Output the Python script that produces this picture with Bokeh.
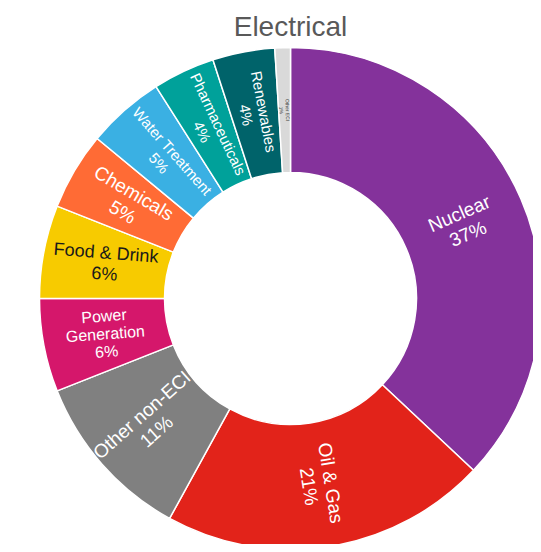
import math
from bokeh.plotting import figure
from bokeh.models import Range1d, ColumnDataSource
from bokeh.embed import file_html
from bokeh.resources import INLINE
from bokeh.core.properties import value

# ---- data ----
categories = ["Nuclear", "Oil & Gas", "Other non-ECI", "Power Generation", "Food & Drink",
              "Chemicals", "Water Treatment", "Pharmaceuticals", "Renewables", "Other ECI"]
display_names = ["Nuclear", "Oil & Gas", "Other non-ECI", "Power\nGeneration", "Food & Drink",
                 "Chemicals", "Water Treatment", "Pharmaceuticals", "Renewables", "Other ECI"]
shares = [37, 21, 11, 6, 6, 5, 5, 4, 4, 1]
title_text = "Electrical"

# ---- styles ----
colors = ["#84329B", "#E2231A", "#808080", "#D5176B", "#F7CB00",
          "#FF6B35", "#3AB0E3", "#00A19A", "#00636A", "#D9D9D9"]
text_colors = ["white", "white", "white", "white", "#1A1A1A",
               "white", "white", "white", "white", "#404040"]
font_px = [19, 19, 19, 16, 18, 19, 15, 15, 15, 5]

W, H = 533, 544
cx, cy = 290, H - 298
r_in, r_out = 126, 251

total = float(sum(shares))
starts, ends, lx, ly, angs, texts, sizes = [], [], [], [], [], [], []
cum = 0.0
for name, s, fs in zip(display_names, shares, font_px):
    f0 = cum / total
    f1 = (cum + s) / total
    cum += s
    starts.append(math.pi / 2 - 2 * math.pi * f0)
    ends.append(math.pi / 2 - 2 * math.pi * f1)
    fm = (f0 + f1) / 2
    phi = math.pi / 2 - 2 * math.pi * fm
    rm = (r_in + r_out) / 2
    lx.append(cx + rm * math.cos(phi))
    ly.append(cy + rm * math.sin(phi))
    a = phi
    while a > math.pi / 2:
        a -= math.pi
    while a <= -math.pi / 2:
        a += math.pi
    if abs(a) < math.radians(14):
        a = a * 0.4
    angs.append(a)
    texts.append(f"{name}\n{s}%")
    sizes.append(f"{fs}px")

src = ColumnDataSource(dict(start=starts, end=ends, color=colors, cat=categories))
lsrc = ColumnDataSource(dict(x=lx, y=ly, text=texts, angle=angs, tc=text_colors, fs=sizes))

p = figure(width=W, height=H, output_backend="svg", toolbar_location=None,
           x_range=Range1d(0, W), y_range=Range1d(0, H), min_border=0)
p.axis.visible = False
p.grid.visible = False
p.outline_line_color = None
p.background_fill_color = "white"

p.annular_wedge(x=cx, y=cy, inner_radius=r_in, outer_radius=r_out,
                start_angle="start", end_angle="end", direction="clock",
                fill_color="color", line_color="white", line_width=1.5, source=src)

p.text(x="x", y="y", text="text", angle="angle", text_color="tc", text_font_size="fs",
       text_font=value("Liberation Sans"), text_align="center", text_baseline="middle",
       text_line_height=1.05, source=lsrc)

p.text(x=[cx], y=[H - 26], text=[title_text], text_font=value("Liberation Sans"),
       text_font_size="28px", text_color="#595959", text_align="center",
       text_baseline="middle")

open("out.html", "w").write(file_html(p, INLINE))
